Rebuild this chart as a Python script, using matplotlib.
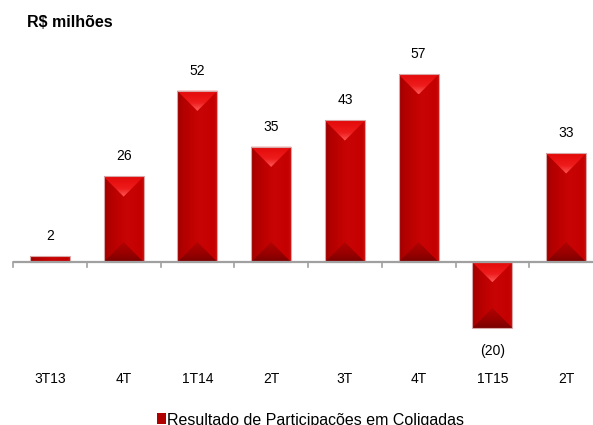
import numpy as np
import matplotlib
matplotlib.use("Agg")
import matplotlib.pyplot as plt
from matplotlib.patches import Polygon, Rectangle
from matplotlib.colors import LinearSegmentedColormap

categories = ["3T13", "4T", "1T14", "2T", "3T", "4T", "1T15", "2T"]
values = [2, 26, 52, 35, 43, 57, -20, 33]
value_labels = ["2", "26", "52", "35", "43", "57", "(20)", "33"]
unit_title = "R$ milhões"
legend_label = "Resultado de Participações em Coligadas"

plt.rcParams['font.family'] = ['Liberation Sans', 'DejaVu Sans']

W, H = 593, 425
fig = plt.figure(figsize=(W / 100, H / 100), dpi=100)
px_per_cat = 73.75
left_px = 13
ax = fig.add_axes([left_px / W, (425 - 361) / H, (W - left_px) / W, (361 - 48) / H])
ax.set_xlim(-0.5, -0.5 + (W - left_px) / px_per_cat)
ax.set_ylim(-30, 65)
ax.axis('off')
fig.canvas.draw()

# pixel scale
p0 = ax.transData.transform((0, 0))
p1 = ax.transData.transform((1, 1))
sx = p1[0] - p0[0]
sy = p1[1] - p0[1]

bar_w = 0.545

body_cmap = LinearSegmentedColormap.from_list(
    "body", [(0, "#9a0000"), (0.12, "#b00000"), (0.45, "#c40202"), (0.55, "#c80404"),
             (0.9, "#c40000"), (1.0, "#cc1010")])
top_cmap = LinearSegmentedColormap.from_list(
    "top", [(0, "#e20808"), (0.6, "#ee1c1c"), (1.0, "#ff5a5a")])
bot_cmap = LinearSegmentedColormap.from_list(
    "bot", [(0, "#b40404"), (0.6, "#980000"), (1.0, "#7a0000")])


def grad_poly(verts, cmap, extent, horizontal=True, reverse=False, z=2):
    poly = Polygon(verts, closed=True, facecolor='none', edgecolor='none')
    ax.add_patch(poly)
    g = np.linspace(0, 1, 256)
    if reverse:
        g = g[::-1]
    img = g[None, :] if horizontal else g[:, None]
    im = ax.imshow(img, cmap=cmap, extent=extent, aspect='auto', origin='lower',
                   interpolation='bilinear', zorder=z)
    im.set_clip_path(poly)


for i, v in enumerate(values):
    x0, x1 = i - bar_w / 2, i + bar_w / 2
    lo, hi = min(0, v), max(0, v)
    hgt = hi - lo
    half_px = bar_w * sx / 2
    depth = half_px / sy
    grad_poly([(x0, lo), (x1, lo), (x1, hi), (x0, hi)], body_cmap,
              [x0, x1, lo, hi], horizontal=True)
    if hgt * sy >= 2.2 * half_px:
        # top triangle
        grad_poly([(x0, hi), (x1, hi), (i, hi - depth)], top_cmap,
                  [x0, x1, hi - depth, hi], horizontal=False, reverse=True, z=3)
        # bottom triangle
        grad_poly([(x0, lo), (x1, lo), (i, lo + depth)], bot_cmap,
                  [x0, x1, lo, lo + depth], horizontal=False, reverse=True, z=3)
    ax.add_patch(Rectangle((x0, lo), bar_w, hgt, facecolor='none',
                           edgecolor='#d8a8a8', linewidth=0.8, zorder=4))
    if v >= 0:
        ax.annotate(value_labels[i], xy=(i, v), xytext=(0, 20), textcoords='offset pixels',
                    ha='center', va='center', fontsize=10, color='black')
    else:
        ax.annotate(value_labels[i], xy=(i, v), xytext=(0, -23), textcoords='offset pixels',
                    ha='center', va='center', fontsize=10, color='black')
    ax.annotate(categories[i], xy=(i, 0), xytext=(0, -117), textcoords='offset pixels',
                ha='center', va='center', fontsize=10, color='black')

# zero axis line and ticks
xl = ax.get_xlim()
ax.plot([xl[0], xl[1]], [0, 0], color='#a0a0a0', linewidth=1.6, zorder=5,
        solid_capstyle='butt', clip_on=False)
for b in np.arange(-0.5, len(categories), 1.0):
    ax.plot([b, b], [0, -5 / sy], color='#a0a0a0', linewidth=1.2, zorder=5, clip_on=False)

fig.text(27 / W, (H - 27) / H, unit_title, fontsize=11.5, fontweight='bold',
         ha='left', va='baseline')

fig.patches.append(Rectangle((157 / W, (H - 424) / H), 9 / W, 11 / H,
                             transform=fig.transFigure, facecolor='#b00000',
                             edgecolor='none', figure=fig))
fig.text(167 / W, (H - 425) / H, legend_label, fontsize=11.5, ha='left', va='baseline')

fig.savefig("out.png", dpi=100)
